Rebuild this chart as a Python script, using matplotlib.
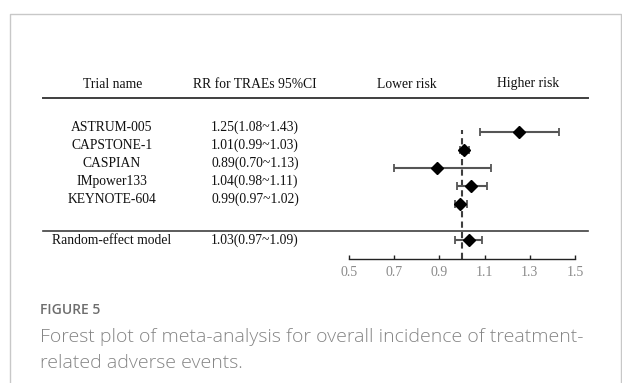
import matplotlib
matplotlib.use("Agg")
import matplotlib.pyplot as plt
from matplotlib.lines import Line2D
import matplotlib.transforms as mtransforms

trials = ["ASTRUM-005", "CAPSTONE-1", "CASPIAN", "IMpower133", "KEYNOTE-604"]
rr = [1.25, 1.01, 0.89, 1.04, 0.99]
lo = [1.08, 0.99, 0.70, 0.98, 0.97]
hi = [1.43, 1.03, 1.13, 1.11, 1.02]
pooled_name = "Random-effect model"
pooled = [1.03, 0.97, 1.09]
xticks = [0.5, 0.7, 0.9, 1.1, 1.3, 1.5]

W, H = 622, 383
fig = plt.figure(figsize=(W / 100, H / 100), dpi=100)

def fx(px):
    return px / W

def fy(py):
    return 1 - py / H

serif = "Liberation Serif"
dark = "#3f3f3f"

# frame around the figure panel
fig.add_artist(Line2D([fx(9.5), fx(9.5), fx(621), fx(621)], [0, fy(14), fy(14), 0],
                      transform=fig.transFigure, color="#c8c8c8", lw=1.0))

# forest axes
ax = fig.add_axes([fx(349), fy(259), fx(575) - fx(349), fy(98) - fy(259)])
ax.set_xlim(0.5, 1.5)
ax.set_ylim(7.05, -1.9)
ax.patch.set_alpha(0)
for s in ["top", "right", "left"]:
    ax.spines[s].set_visible(False)
ax.spines["bottom"].set_color("#222222")
ax.spines["bottom"].set_linewidth(1.0)
ax.set_yticks([])
ax.set_xticks(xticks)
ax.set_xticklabels([f"{t:.1f}" for t in xticks], fontfamily=serif, fontsize=10, color="#8a8a8a")
ax.tick_params(axis="x", direction="in", length=3, width=1, color="#222222", pad=5)

rows = list(range(len(trials)))
pooled_row = 6
ax.axvline(1.0, ymin=0.0, ymax=(7.05 - (-0.1)) / (7.05 + 1.9), color=dark, ls=(0, (3, 2)), lw=1.5, zorder=1)

ax.errorbar(rr, rows, xerr=[[r - l for r, l in zip(rr, lo)], [h - r for r, h in zip(rr, hi)]],
            fmt="D", color="black", ecolor="#555555", elinewidth=1.5, capsize=3, capthick=1.3,
            markersize=6.5, zorder=3)
ax.errorbar([pooled[0]], [pooled_row], xerr=[[pooled[0] - pooled[1]], [pooled[2] - pooled[0]]],
            fmt="D", color="black", ecolor="#555555", elinewidth=1.5, capsize=3, capthick=1.3,
            markersize=6.5, zorder=3)

# table text
trans = mtransforms.blended_transform_factory(fig.transFigure, ax.transData)
fs = 9.8
for i, (name, r, l, h) in enumerate(zip(trials, rr, lo, hi)):
    ax.text(fx(112), i - 0.25, name, transform=trans, ha="center", va="center",
            fontfamily=serif, fontsize=fs, color="#111111")
    ax.text(fx(255), i - 0.25, f"{r:.2f}({l:.2f}~{h:.2f})", transform=trans, ha="center",
            va="center", fontfamily=serif, fontsize=fs, color="#111111")
ax.text(fx(112), pooled_row, pooled_name, transform=trans, ha="center", va="center",
        fontfamily=serif, fontsize=fs, color="#111111")
ax.text(fx(255), pooled_row, f"{pooled[0]:.2f}({pooled[1]:.2f}~{pooled[2]:.2f})", transform=trans,
        ha="center", va="center", fontfamily=serif, fontsize=fs, color="#111111")

# headers
for label, px in [("Trial name", 113), ("RR for TRAEs 95%CI", 255), ("Lower risk", 407), ("Higher risk", 528)]:
    fig.text(fx(px), fy(84), label, ha="center", va="center", fontfamily=serif, fontsize=fs, color="#111111")

fig.add_artist(Line2D([fx(43), fx(588)], [fy(98), fy(98)], transform=fig.transFigure, color=dark, lw=1.4))
fig.add_artist(Line2D([fx(43), fx(588)], [fy(231), fy(231)], transform=fig.transFigure, color=dark, lw=1.2))

# caption
fig.text(fx(40), fy(310), "FIGURE 5", ha="left", va="center", fontfamily="Open Sans",
         fontsize=10, fontweight="semibold", color="#6e6e6e")
fig.text(fx(40), fy(337), "Forest plot of meta-analysis for overall incidence of treatment-",
         ha="left", va="center", fontfamily="Open Sans", fontsize=14, fontweight="light", color="#858585")
fig.text(fx(40), fy(363), "related adverse events.",
         ha="left", va="center", fontfamily="Open Sans", fontsize=14, fontweight="light", color="#858585")

fig.savefig("out.png", dpi=100)
